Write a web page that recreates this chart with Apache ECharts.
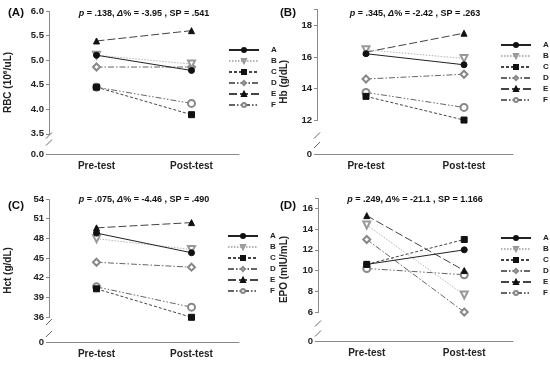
<!DOCTYPE html>
<html><head><meta charset="utf-8">
<script src="https://cdn.jsdelivr.net/npm/echarts@6/dist/echarts.min.js"></script>
<style>html,body{margin:0;padding:0;background:#fff}#c{width:550px;height:366px}</style>
</head><body><div id="c"></div>
<script>
// ---------------- data ----------------
const categories = ['Pre-test', 'Post-test'];
const groups = ['A', 'B', 'C', 'D', 'E', 'F'];

const rbcPre  = [5.10, 5.10, 4.45, 4.86, 5.39, 4.45];
const rbcPost = [4.79, 4.92, 3.89, 4.86, 5.60, 4.12];
const hbPre   = [16.2, 16.45, 13.5, 14.6, 16.3, 13.75];
const hbPost  = [15.5, 15.9, 12.0, 14.9, 17.5, 12.8];
const hctPre  = [48.8, 47.95, 40.3, 44.35, 49.6, 40.6];
const hctPost = [45.8, 46.3, 35.6, 43.6, 50.4, 37.5];
const epoPre  = [10.6, 14.4, 10.6, 13.0, 15.3, 10.2];
const epoPost = [12.0, 7.65, 13.0, 6.0, 10.0, 9.6];

const panelLetters = ['(A)', '(B)', '(C)', '(D)'];
const yNames = ['RBC (10{s|\u2076}/uL)', 'Hb (g/dL)', 'Hct (g/dL)', 'EPO (mIU/mL)'];
const yMax = [6, 19, 54, 17];
const yInterval = [0.5, 2, 3, 2];
const yDecimals = [1, 0, 0, 0];
const breakEnd = [3.5, 12, 36, 6];
const breakGap = [0.41, 2.15, 3.81, 2.79];
const statP = ['.138', '.345', '.075', '.249'];
const statD = ['-3.95', '-2.42', '-4.46', '-21.1'];
const statSP = ['.541', '.263', '.490', '1.166'];

const preSets = [rbcPre, hbPre, hctPre, epoPre];
const postSets = [rbcPost, hbPost, hctPost, epoPost];

// ---------------- styles / layout ----------------
const FONT = 'Liberation Sans';
const layout = [
  {left: 49,  top: 11,  width: 190, height: 143, nameGap: 36, lx: 223, ly: 41,  sx: 144, sy: 14,  px: 8,   py: 13,  bu: 135.5, bl: 142.5},
  {left: 317, top: 9.5, width: 196, height: 144.5, nameGap: 28, lx: 495, ly: 36, sx: 415, sy: 14,  px: 280, py: 13,  bu: 135.5, bl: 145},
  {left: 49,  top: 199, width: 190, height: 143, nameGap: 36, lx: 222, ly: 227, sx: 144, sy: 200, px: 8,   py: 206, bu: 322,   bl: 334},
  {left: 318, top: 198, width: 195, height: 143, nameGap: 29, lx: 495, ly: 229, sx: 415, sy: 200, px: 280, py: 206, bu: 323.5, bl: 333.5}
];
const seriesStyles = [
  {symbol: 'circle',        size: 6, rotate: 0,   color: '#111', line: '#222', type: 'solid'},
  {symbol: 'emptyTriangle', size: 7, rotate: 180, color: '#999', line: '#b4b4b4', type: [1.5, 1.5]},
  {symbol: 'rect',          size: 6, rotate: 0,   color: '#111', line: '#444', type: [3, 2]},
  {symbol: 'emptyDiamond',  size: 7, rotate: 0,   color: '#888', line: '#666', type: [6, 2, 1.5, 2]},
  {symbol: 'triangle',      size: 6, rotate: 0,   color: '#111', line: '#444', type: [8, 3]},
  {symbol: 'emptyCircle',   size: 7, rotate: 0,   color: '#888', line: '#666', type: [6, 2, 1.5, 2, 1.5, 2]}
];

const grid = [], xAxis = [], yAxis = [], series = [], legend = [], graphic = [];
layout.forEach((L, p) => {
  grid.push({left: L.left, top: L.top, width: L.width, height: L.height});
  xAxis.push({
    type: 'category', gridIndex: p, data: categories, boundaryGap: true,
    axisLine: {lineStyle: {color: '#8a8a8a', width: 1}},
    axisTick: {show: false},
    axisLabel: {fontFamily: FONT, fontSize: 10, fontWeight: 'bold', color: '#222', margin: 7}
  });
  yAxis.push({
    type: 'value', gridIndex: p, min: 0, max: yMax[p], interval: yInterval[p],
    breaks: [{start: 0, end: breakEnd[p], gap: breakGap[p]}],
    breakArea: {show: false},
    axisLine: {show: true, lineStyle: {color: '#8a8a8a', width: 1}},
    axisTick: {show: true, length: 3, lineStyle: {color: '#8a8a8a'}},
    splitLine: {show: false},
    axisLabel: {
      fontFamily: FONT, fontSize: 9.5, fontWeight: 'bold', color: '#222', margin: 5,
      formatter: v => {
        const r = v / yInterval[p];
        if (Math.abs(r - Math.round(r)) > 1e-6) return '';
        return v.toFixed(yDecimals[p]);
      }
    },
    name: yNames[p], nameLocation: 'middle', nameGap: L.nameGap,
    nameTextStyle: {
      fontFamily: FONT, fontSize: 10, fontWeight: 'bold', color: '#222',
      rich: {s: {fontFamily: 'DejaVu Sans', fontSize: 9, fontWeight: 'bold', color: '#222'}}
    }
  });
  groups.forEach((g, k) => {
    const s = seriesStyles[k];
    series.push({
      type: 'line', name: g, xAxisIndex: p, yAxisIndex: p,
      data: [preSets[p][k], postSets[p][k]],
      symbol: s.symbol, symbolRotate: s.rotate, symbolSize: s.size,
      itemStyle: {color: s.color, borderColor: s.color, borderWidth: 1},
      lineStyle: {color: s.line, width: 1, type: s.type},
      emphasis: {disabled: true}, animation: false, z: 3 + (6 - k)
    });
  });
  legend.push({
    orient: 'vertical', left: L.lx, top: L.ly, itemWidth: 30, itemHeight: 5, itemGap: 3,
    data: groups, selectedMode: false,
    textStyle: {fontFamily: FONT, fontSize: 8, fontWeight: 'bold', color: '#222', padding: [0, 0, 0, 7]}
  });
  graphic.push({type: 'text', x: L.px, y: L.py, z: 100,
    style: {text: panelLetters[p], fontFamily: FONT, fontSize: 11.5, fontWeight: 'bold', fill: '#111', align: 'left', verticalAlign: 'middle'}});
  graphic.push({type: 'text', x: L.sx, y: L.sy, z: 100,
    style: {
      text: '{i|p} = ' + statP[p] + ', {i|\u0394}% = ' + statD[p] + ' , SP = ' + statSP[p],
      fontFamily: FONT, fontSize: 9, fontWeight: 'bold', fill: '#111', align: 'center', verticalAlign: 'middle',
      rich: {i: {fontFamily: FONT, fontSize: 9, fontWeight: 'bold', fontStyle: 'italic', fill: '#111'}}
    }});
  const ax = L.left;
  graphic.push({type: 'rect', z: 100, shape: {x: ax - 2, y: L.bu, width: 4, height: L.bl - L.bu}, style: {fill: '#fff'}});
  [L.bu, L.bl].forEach(yy => {
    graphic.push({type: 'line', z: 101, shape: {x1: ax - 3, y1: yy + 3, x2: ax + 3, y2: yy - 3},
      style: {stroke: '#666', lineWidth: 1}});
  });
});

const chart = echarts.init(document.getElementById('c'), null, {renderer: 'canvas'});
chart.setOption({
  animation: false,
  backgroundColor: '#fff',
  grid, xAxis, yAxis, series, legend, graphic
});
</script>
</body></html>
